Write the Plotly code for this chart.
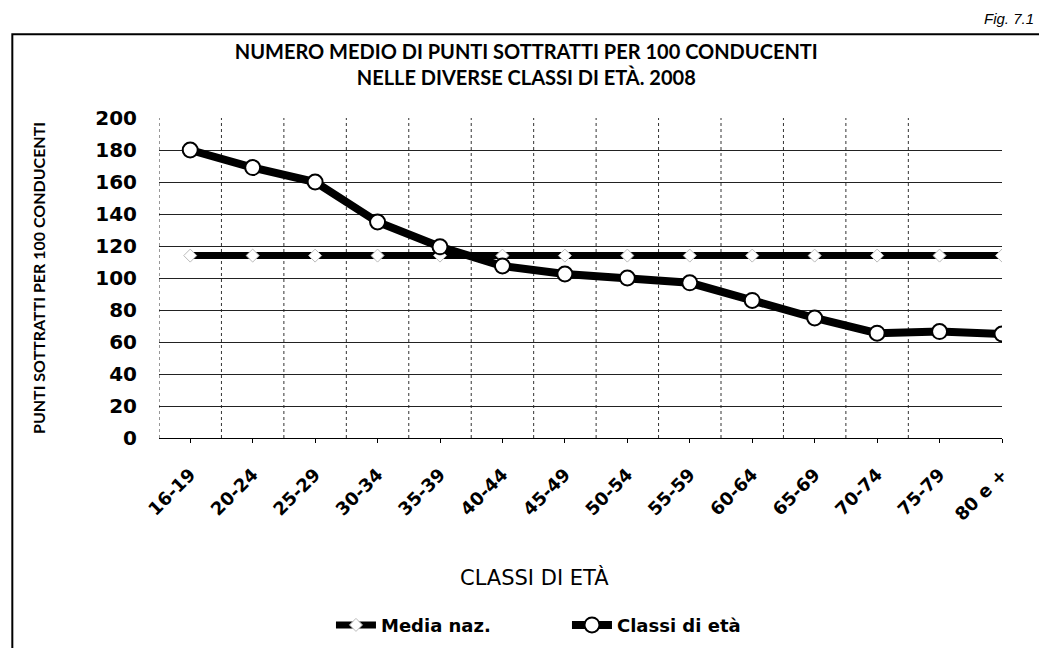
import plotly.graph_objects as go

# valori
classi = ["16-19", "20-24", "25-29", "30-34", "35-39", "40-44", "45-49",
          "50-54", "55-59", "60-64", "65-69", "70-74", "75-79", "80 e +"]
punti_classi = [180, 169, 160, 135, 119.5, 107.5, 102.5, 100, 97, 86, 75, 65.5, 66.5, 65]
media_naz = [114] * len(classi)

FONT = "Lato"
WIDE = "DejaVu Sans"

fig = go.Figure()

fig.add_trace(go.Scatter(
    name="Media naz.", x=classi, y=media_naz, mode="lines+markers",
    line=dict(color="black", width=7),
    marker=dict(symbol="diamond", size=10, color="white",
                line=dict(color="#bbbbbb", width=1)),
))
fig.add_trace(go.Scatter(
    name="Classi di età", x=classi, y=punti_classi, mode="lines+markers",
    line=dict(color="black", width=8),
    marker=dict(symbol="circle", size=15, color="white",
                line=dict(color="black", width=2)),
))

# la pagina aggiunge 8px di margine: l'area del grafico e' spostata di conseguenza
fig.update_layout(
    width=1047, height=648,
    margin=dict(l=151, r=53, t=110, b=214),
    paper_bgcolor="white", plot_bgcolor="white",
    font=dict(family=FONT, color="black"),
    title=dict(
        text="<b>NUMERO MEDIO DI PUNTI SOTTRATTI PER 100 CONDUCENTI<br>"
             "NELLE DIVERSE CLASSI DI ETÀ. 2008</b>",
        x=0.495, xanchor="center", y=0.922, yanchor="middle",
        font=dict(size=20, family=FONT),
    ),
    showlegend=True,
    legend=dict(orientation="h", x=0.204, xanchor="left", y=-0.585, yanchor="middle",
                font=dict(size=18, family=WIDE, weight="bold"),
                itemwidth=40, entrywidth=181),
)

fig.update_xaxes(
    type="category", range=[-0.5, 13],
    showgrid=False, tickangle=-45,
    tickfont=dict(size=18, family=WIDE, weight="bold"),
    showline=True, linecolor="black", linewidth=1,
    ticks="outside", ticklen=4, tickcolor="black", ticklabelstandoff=14,
)
fig.update_yaxes(
    range=[0, 200], dtick=20,
    showgrid=True, gridcolor="#222222", gridwidth=1,
    tickfont=dict(size=20, family=WIDE, weight="bold"),
    title=dict(text="<b>PUNTI SOTTRATTI PER 100 CONDUCENTI</b>",
               font=dict(size=16, family=FONT), standoff=45),
    zeroline=False, ticks="", ticklabelstandoff=21,
)

# griglia verticale tratteggiata sui confini delle classi
for i in range(len(classi) - 1):
    fig.add_shape(type="line", xref="x", yref="paper",
                  x0=i - 0.5, x1=i - 0.5, y0=0, y1=1,
                  line=dict(color="#333333", width=1, dash="dot"), layer="below")

# titolo asse x
fig.add_annotation(text="CLASSI DI ETÀ", xref="paper", yref="paper",
                   x=0.446, y=-0.435, xanchor="center", yanchor="middle",
                   showarrow=False, font=dict(size=21, family=WIDE))

# cornice esterna
fig.add_shape(type="rect", xref="paper", yref="paper",
              x0=-0.174, x1=1.07, y0=-0.7, y1=1.262,
              line=dict(color="black", width=2))

fig.add_annotation(text="<i>Fig. 7.1</i>", xref="paper", yref="paper",
                   x=1.04, y=1.31, xanchor="right", yanchor="middle",
                   showarrow=False, font=dict(size=15, family="Liberation Sans"))

fig.write_html("out.html")
